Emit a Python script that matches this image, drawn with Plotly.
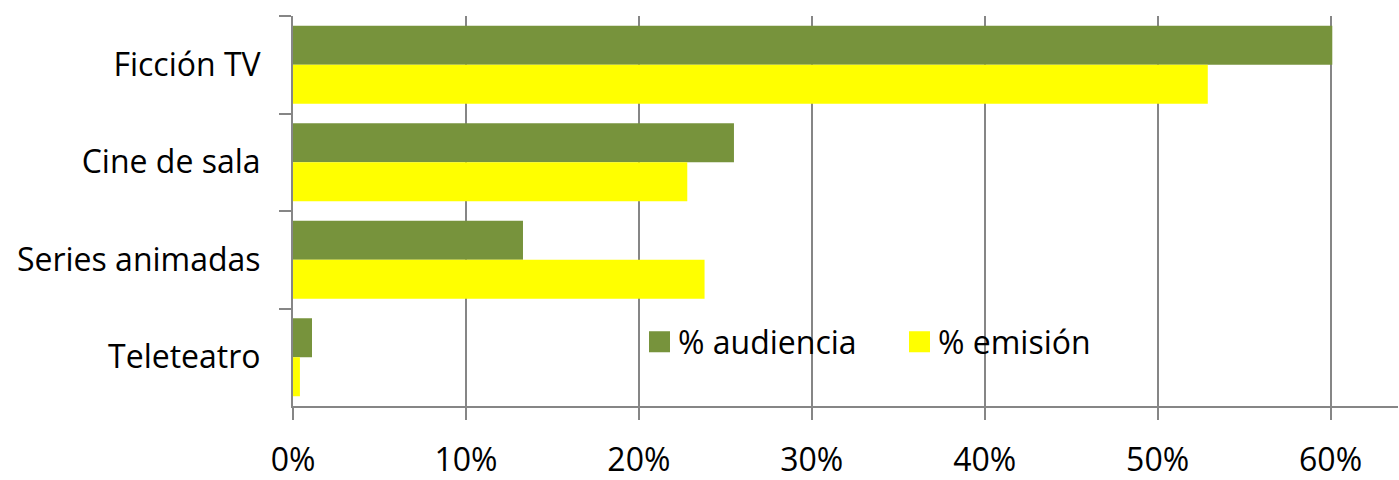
import plotly.graph_objects as go

categories = ["Ficción TV", "Cine de sala", "Series animadas", "Teleteatro"]
audiencia = [0.601, 0.255, 0.133, 0.011]
emision = [0.529, 0.228, 0.238, 0.004]
series_names = ["% audiencia", "% emisión"]
colors = ["#77933C", "#FFFF00"]

FONT = "Open Sans"
FS = 32

fig = go.Figure()
for name, vals, col in zip(series_names, [audiencia, emision], colors):
    fig.add_trace(go.Bar(
        y=categories, x=vals, name=name, orientation="h",
        marker=dict(color=col, line=dict(width=0)),
        showlegend=False,
    ))

# Manual legend (larger squares like the original)
W, H = 1105.0, 389.7
def px(x):
    return (x - 293.0) / W
def py(y):
    return (405.7 - y) / H

legend_items = [(649, series_names[0], colors[0]), (909, series_names[1], colors[1])]
for x0, name, col in legend_items:
    fig.add_shape(type="rect", xref="paper", yref="paper",
                  x0=px(x0), x1=px(x0 + 21), y0=py(352), y1=py(331),
                  fillcolor=col, line=dict(width=0), layer="above")
    fig.add_annotation(xref="paper", yref="paper", x=px(x0 + 27), y=py(341.5),
                       text=name, showarrow=False, xanchor="left", yanchor="middle",
                       font=dict(family=FONT, size=FS, color="#000000"))

fig.update_layout(
    width=1399, height=480,
    margin=dict(l=293, r=1, t=16, b=74),
    paper_bgcolor="white", plot_bgcolor="white",
    barmode="group", bargap=0.2, bargroupgap=0,
    font=dict(family=FONT, size=FS, color="#000000"),
)
fig.update_xaxes(
    range=[0, 0.639], tickvals=[0, 0.1, 0.2, 0.3, 0.4, 0.5, 0.6],
    tickformat=".0%", showgrid=True, gridcolor="#868686", gridwidth=2,
    showline=True, linecolor="#868686", linewidth=2,
    ticks="outside", ticklen=12, tickcolor="#868686", tickwidth=2,
    ticklabelstandoff=13, zeroline=False, automargin=False,
    tickfont=dict(family=FONT, size=FS, color="#000000"),
)
fig.update_yaxes(
    autorange="reversed", showgrid=False,
    showline=True, linecolor="#868686", linewidth=2,
    ticks="outside", ticklen=12, tickcolor="#868686", tickwidth=2,
    tickson="boundaries", ticklabelstandoff=24, automargin=False,
    tickfont=dict(family=FONT, size=FS, color="#000000"),
)

fig.write_html("out.html", config={"displayModeBar": False},
               post_script="document.body.style.margin='0';document.body.style.padding='0';document.body.style.overflow='hidden';")
